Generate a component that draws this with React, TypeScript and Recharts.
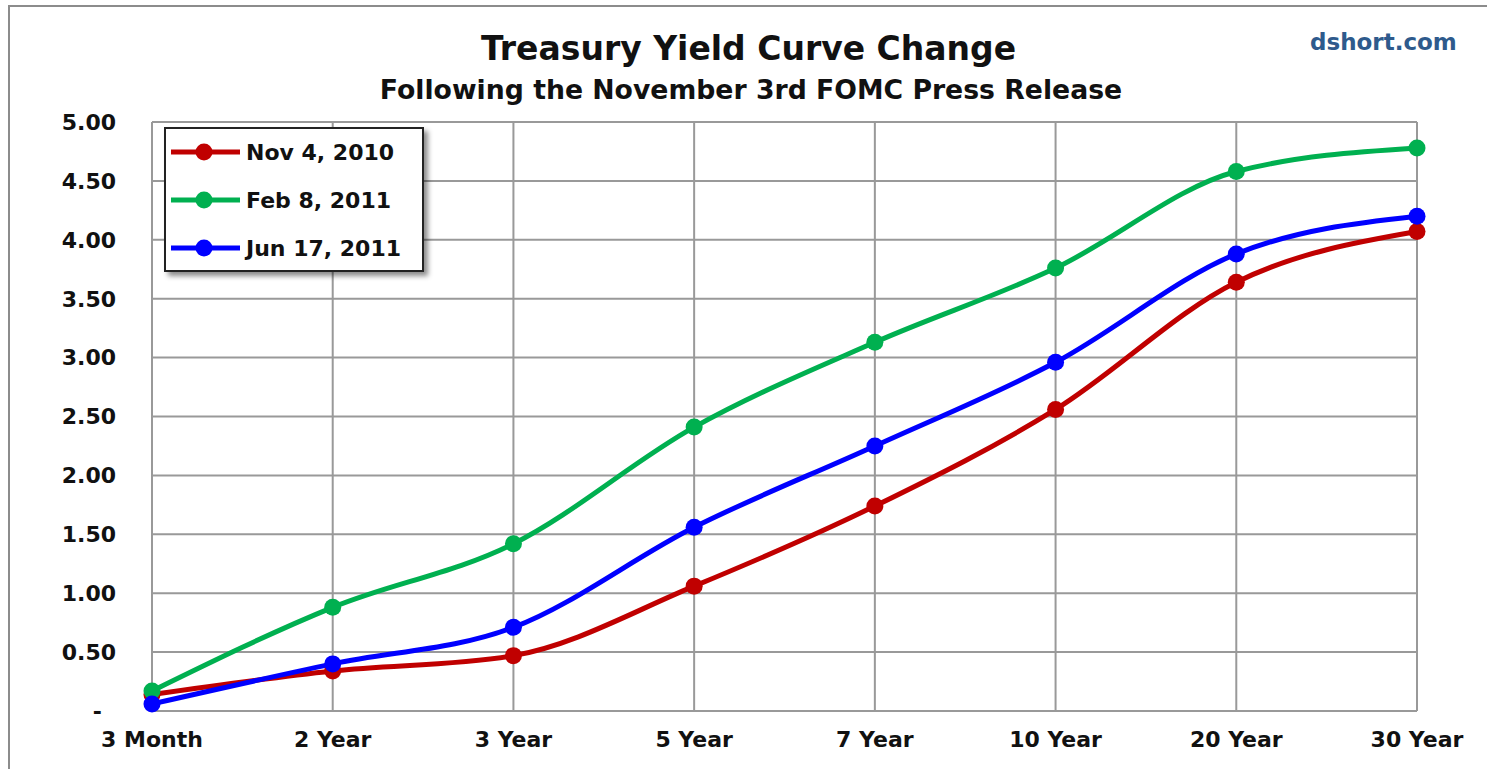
import { LineChart, Line, XAxis, YAxis, CartesianGrid, Legend } from 'recharts';

const categories = ['3 Month', '2 Year', '3 Year', '5 Year', '7 Year', '10 Year', '20 Year', '30 Year'];
const nov2010 = [0.14, 0.34, 0.47, 1.06, 1.74, 2.56, 3.64, 4.07];
const feb2011 = [0.17, 0.88, 1.42, 2.41, 3.13, 3.76, 4.58, 4.78];
const jun2011 = [0.06, 0.40, 0.71, 1.56, 2.25, 2.96, 3.88, 4.20];
const yTicks = [0, 0.5, 1, 1.5, 2, 2.5, 3, 3.5, 4, 4.5, 5];

const seriesList = [
  { key: 'nov', name: 'Nov 4, 2010', color: '#C00000' },
  { key: 'feb', name: 'Feb 8, 2011', color: '#00B050' },
  { key: 'jun', name: 'Jun 17, 2011', color: '#0000FF' },
];

const FONT = '"DejaVu Sans", sans-serif';

const data = categories.map((term, i) => ({
  term,
  nov: nov2010[i],
  feb: feb2011[i],
  jun: jun2011[i],
}));

const YTick = ({ x, y, payload }: any) => (
  <text
    x={payload.value === 0 ? x - 14 : x}
    y={y}
    dy="0.355em"
    textAnchor="end"
    fill="#111"
    fontSize={22}
    fontWeight="bold"
    fontFamily={FONT}
  >
    {payload.value === 0 ? '-' : payload.value.toFixed(2)}
  </text>
);

const LegendBox = () => (
  <div
    style={{
      width: 256,
      height: 141,
      border: '2px solid #222',
      background: '#fff',
      boxShadow: '4px 4px 5px rgba(0,0,0,0.45)',
      position: 'relative',
      fontFamily: FONT,
    }}
  >
    {seriesList.map((s, i) => (
      <div
        key={s.key}
        style={{ position: 'absolute', left: 0, top: 23 + i * 48 - 14, height: 28, display: 'flex', alignItems: 'center' }}
      >
        <svg width={80} height={28}>
          <line x1={5} y1={14} x2={74} y2={14} stroke={s.color} strokeWidth={5} />
          <circle cx={38} cy={14} r={8.5} fill={s.color} />
        </svg>
        <span style={{ fontSize: 22, fontWeight: 'bold', color: '#111' }}>{s.name}</span>
      </div>
    ))}
  </div>
);

export default function App() {
  return (
    <div style={{ position: 'fixed', left: 0, top: 0, width: 1487, height: 769, background: '#fff', overflow: 'hidden' }}>
      <div style={{ position: 'absolute', left: 8, top: 5, width: 1500, height: 800, borderTop: '2px solid #8c8c8c', borderLeft: '2px solid #8c8c8c' }} />
      <div style={{ position: 'absolute', left: 0, width: 1497, top: 29, textAlign: 'center', fontFamily: FONT, fontWeight: 'bold', fontSize: 33, color: '#111' }}>
        Treasury Yield Curve Change
      </div>
      <div style={{ position: 'absolute', left: 0, width: 1502, top: 74, textAlign: 'center', fontFamily: FONT, fontWeight: 'bold', fontSize: 26.7, color: '#111' }}>
        Following the November 3rd FOMC Press Release
      </div>
      <div style={{ position: 'absolute', left: 1310, top: 29, fontFamily: FONT, fontWeight: 'bold', fontSize: 23, color: '#2E5A8C' }}>
        dshort.com
      </div>
      <div style={{ position: 'absolute', left: 0, top: 0 }}>
        <LineChart width={1487} height={769} data={data} margin={{ top: 122, right: 70, left: 0, bottom: 18 }}>
          <CartesianGrid stroke="#999" strokeWidth={2} />
          <XAxis
            dataKey="term"
            interval={0}
            height={40}
            axisLine={{ stroke: '#999', strokeWidth: 2 }}
            tickLine={false}
            tickSize={0}
            tickMargin={20}
            tick={{ fill: '#111', fontSize: 22, fontWeight: 'bold', fontFamily: FONT }}
          />
          <YAxis
            domain={[0, 5]}
            ticks={yTicks}
            width={152}
            axisLine={{ stroke: '#999', strokeWidth: 2 }}
            tickLine={false}
            tickSize={0}
            tickMargin={36}
            tick={<YTick />}
          />
          <Legend
            layout="vertical"
            align="center"
            verticalAlign="middle"
            content={<LegendBox />}
            wrapperStyle={{ position: 'absolute', left: 164, top: 127, width: 260, height: 145 }}
          />
          {seriesList.map((s) => (
            <Line
              key={s.key}
              type="monotone"
              dataKey={s.key}
              name={s.name}
              stroke={s.color}
              strokeWidth={5}
              dot={{ r: 8.5, fill: s.color, stroke: s.color, strokeWidth: 0 }}
              activeDot={false}
              isAnimationActive={false}
            />
          ))}
        </LineChart>
      </div>
    </div>
  );
}
